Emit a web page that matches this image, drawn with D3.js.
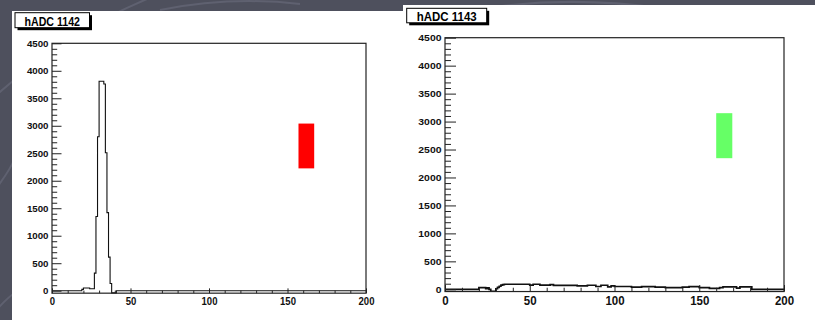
<!DOCTYPE html>
<html><head><meta charset="utf-8">
<script src="https://cdn.jsdelivr.net/npm/d3@7"></script>
<style>html,body{margin:0;padding:0;background:#4e505d;overflow:hidden}svg{display:block}</style>
</head><body><svg id="c" width="815" height="320"></svg>
<script>
// ---------- data ----------
const titles = ["hADC 1142", "hADC 1143"];
const xTickValues = [0, 50, 100, 150, 200];
const yTickValues = [0, 500, 1000, 1500, 2000, 2500, 3000, 3500, 4000, 4500];
const binCount = 200;

const counts1142 = [
  0,0,0,0,0,0,0,0,0,0,0,0,0,0,0,0,0,0,0,25,
  50,50,50,50,35,35,35,320,1350,2800,3810,3810,3810,3760,2510,1420,610,130,-40,-40,
  -40,0,0,0,0,0,0,0,0,0,0,0,0,0,0,0,0,0,0,0,
  0,0,0,0,0,0,0,0,0,0,0,0,0,0,0,0,0,0,0,0,
  0,0,0,0,0,0,0,0,0,0,0,0,0,0,0,0,0,0,0,0,
  0,0,0,0,0,0,0,0,0,0,0,0,0,0,0,0,0,0,0,0,
  0,0,0,0,0,0,0,0,0,0,0,0,0,0,0,0,0,0,0,0,
  0,0,0,0,0,0,0,0,0,0,0,0,0,0,0,0,0,0,0,0,
  0,0,0,0,0,0,0,0,0,0,0,0,0,0,0,0,0,0,0,0,
  0,0,0,0,0,0,0,0,0,0,0,0,0,0,0,0,0,0,0,0
];
const counts1143 = [
  0,0,0,0,0,0,0,0,0,0,0,0,0,0,0,0,0,0,0,0,
  30,30,30,30,10,25,0,-35,-35,-35,10,35,55,75,85,90,90,90,90,90,
  90,90,90,90,90,90,90,90,90,90,75,75,90,90,90,90,75,75,75,75,
  75,75,85,85,70,70,70,70,70,70,70,70,70,70,70,70,70,70,60,60,
  60,60,60,60,72,72,72,72,72,50,50,50,72,72,72,72,45,45,60,60,
  50,50,50,50,50,50,50,50,50,50,40,40,40,40,40,40,48,48,48,48,
  48,48,48,48,38,38,38,38,38,38,30,30,30,30,30,30,30,30,30,30,
  40,40,40,40,48,48,48,48,48,48,30,30,30,30,30,30,15,15,15,15,
  15,15,30,30,42,42,42,42,42,42,42,42,20,20,45,45,45,45,45,45,
  45,0,0,0,0,0,0,0,0,0,0,0,0,0,0,0,0,0,0,0
];
// coloured marker boxes (data units): [xmin, xmax], [ymin, ymax]
const markerX1142 = [157, 167], markerY1142 = [2225, 3040];
const markerX1143 = [160, 169.5], markerY1143 = [2345, 3150];
const markerColors = ["#ff0000", "#66ff66"];

// ---------- layout ----------
const svg = d3.select("#c");
const bg = svg.append("g");
bg.append("rect").attr("width", 815).attr("height", 320).attr("fill", "#4e505d");
const curves = ["M -30 120 Q 60 30 170 -10", "M 460 12 Q 560 -6 660 8", "M -10 318 Q 4 300 16 292",
                "M 160 10 Q 230 -4 300 4", "M -5 190 Q 10 170 14 160"];
bg.selectAll("path").data(curves).join("path").attr("d", d => d)
  .attr("fill", "none").attr("stroke", "#5f6170").attr("stroke-width", 2);

const panels = [
  { pad: [12, 11, 391, 320], frame: [52, 43.3, 366, 290.7], yMin: -45, counts: counts1142,
    mx: markerX1142, my: markerY1142, title: [15, 12.7, 74.5, 15, 26, 55.5, 12.5],
    yMajor: 9.5, yMinor: 5.2, xMajor: 4.8, xMinor: 2.6, yFont: 9.3, yCharW: 5.4, xFont: 11.6, xCharW: 5.3,
    xLabelDy: 3.5, histW: 1.1 },
  { pad: [403, 5, 412, 320], frame: [445, 37.7, 784, 289.3], yMin: -40, counts: counts1143,
    mx: markerX1143, my: markerY1143, title: [406.7, 8.3, 80, 14.5, 20.7, 60, 12],
    yMajor: 11, yMinor: 6, xMajor: 6.5, xMinor: 3.8, yFont: 9.5, yCharW: 5.8, xFont: 13, xCharW: 6.4,
    xLabelDy: 4.5, histW: 1.7 }
];

const fmt = d3.format("d");

panels.forEach((p, k) => {
  const g = svg.append("g");
  g.append("rect").attr("x", p.pad[0]).attr("y", p.pad[1]).attr("width", p.pad[2]).attr("height", p.pad[3] - p.pad[1]).attr("fill", "#fff");

  const [fx0, fyTop, fx1, fyZero] = p.frame;
  const pxPerCount = (fyZero - fyTop) / 4500;
  const fyBottom = fyZero + (-p.yMin) * pxPerCount;
  const x = d3.scaleLinear().domain([0, 200]).range([fx0, fx1]);
  const y = d3.scaleLinear().domain([p.yMin, 4500]).range([fyBottom, fyTop]);

  // marker box
  g.append("rect").attr("x", x(p.mx[0])).attr("width", x(p.mx[1]) - x(p.mx[0]))
    .attr("y", y(p.my[1])).attr("height", y(p.my[0]) - y(p.my[1])).attr("fill", markerColors[k]);

  // histogram
  const pts = p.counts.map((v, i) => [i, v]);
  pts.push([binCount, p.counts[binCount - 1]]);
  const line = d3.line().x(d => x(d[0] * 200 / binCount)).y(d => y(d[1])).curve(d3.curveStepAfter);
  g.append("path").attr("d", line(pts)).attr("fill", "none").attr("stroke", "#111").attr("stroke-width", p.histW);

  // frame
  g.append("rect").attr("x", fx0).attr("y", fyTop).attr("width", fx1 - fx0).attr("height", fyBottom - fyTop)
    .attr("fill", "none").attr("stroke", "#222").attr("stroke-width", 1.2);

  // y axis
  const yMinorTicks = d3.range(0, 4501, 100).filter(v => v % 500 !== 0);
  g.append("g").attr("transform", `translate(${fx0},0)`)
    .call(d3.axisLeft(y).tickValues(yMinorTicks).tickSizeInner(-p.yMinor).tickSizeOuter(0).tickFormat(""))
    .call(a => a.select(".domain").remove())
    .selectAll("line").attr("stroke", "#222");
  const ya = g.append("g").attr("transform", `translate(${fx0},0)`)
    .call(d3.axisLeft(y).tickValues(yTickValues).tickFormat(fmt).tickSizeInner(-p.yMajor).tickSizeOuter(0).tickPadding(3.5))
    .call(a => a.select(".domain").remove());
  ya.selectAll("line").attr("stroke", "#222");
  ya.selectAll("text").attr("font-family", "'Liberation Sans', Arial, sans-serif").attr("font-weight", "bold")
    .attr("font-size", p.yFont).attr("fill", "#111")
    .attr("textLength", d => fmt(d).length * p.yCharW).attr("lengthAdjust", "spacingAndGlyphs");

  // x axis
  const xMinorTicks = d3.range(0, 201, 10).filter(v => v % 50 !== 0);
  g.append("g").attr("transform", `translate(0,${fyBottom})`)
    .call(d3.axisBottom(x).tickValues(xMinorTicks).tickSizeInner(-p.xMinor).tickSizeOuter(0).tickFormat(""))
    .call(a => a.select(".domain").remove())
    .selectAll("line").attr("stroke", "#222");
  const xa = g.append("g").attr("transform", `translate(0,${fyBottom})`)
    .call(d3.axisBottom(x).tickValues(xTickValues).tickFormat(fmt).tickSizeInner(-p.xMajor).tickSizeOuter(0).tickPadding(p.xLabelDy))
    .call(a => a.select(".domain").remove());
  xa.selectAll("line").attr("stroke", "#222");
  xa.selectAll("text").attr("font-family", "'Liberation Sans', Arial, sans-serif").attr("font-weight", "bold")
    .attr("font-size", p.xFont).attr("fill", "#111")
    .attr("textLength", d => fmt(d).length * p.xCharW).attr("lengthAdjust", "spacingAndGlyphs");

  // title pave with shadow
  const [tx, ty, tw, th, tb, tl, tf] = p.title;
  g.append("rect").attr("x", tx + 2.5).attr("y", ty + 2.5).attr("width", tw).attr("height", th).attr("fill", "#000");
  g.append("rect").attr("x", tx).attr("y", ty).attr("width", tw).attr("height", th)
    .attr("fill", "#fff").attr("stroke", "#000").attr("stroke-width", 1);
  g.append("text").attr("x", tx + tw / 2).attr("y", tb).attr("text-anchor", "middle")
    .attr("font-family", "'Liberation Sans', Arial, sans-serif").attr("font-weight", "bold")
    .attr("font-size", tf).attr("fill", "#000")
    .attr("textLength", tl).attr("lengthAdjust", "spacingAndGlyphs")
    .text(titles[k]);
});
</script></body></html>
